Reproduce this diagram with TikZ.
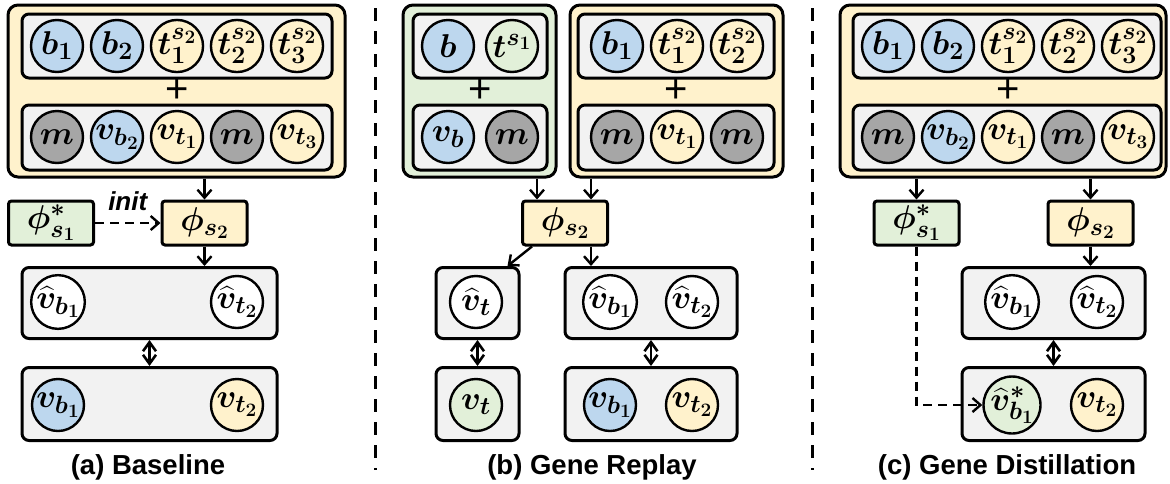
\RequirePackage{fix-cm}
\documentclass[tikz,border=0pt]{standalone}
\usepackage{amsmath,bm}
\usepackage{fontspec}
\newfontfamily\lsans{Liberation Sans}
\usetikzlibrary{arrows.meta,calc}
\definecolor{cy}{HTML}{FFF2CC}
\definecolor{cb}{HTML}{BDD7EE}
\definecolor{cg}{HTML}{E2F0D9}
\definecolor{cm}{HTML}{A6A6A6}
\definecolor{cl}{HTML}{F2F2F2}
\DeclareMathSizes{33}{33}{25}{19}
\newcommand\mf{\fontsize{33}{38}\selectfont}
\newcommand\hv{\widehat{v}}
\begin{document}
\begin{tikzpicture}[x=1pt,y=-1pt,
  cir/.style={circle, draw, line width=2.4pt, minimum size=52pt, inner sep=0pt, font=\mf},
  outerbox/.style={draw, line width=3pt, rounded corners=10pt},
  innerbox/.style={draw, fill=cl, line width=3pt, rounded corners=7pt},
  pbox/.style={draw, line width=3pt, rounded corners=3pt, minimum width=85pt, minimum height=44pt, inner sep=0pt, font=\mf},
  arr/.style={line width=2.4pt, -{Straight Barb[length=8pt,width=14pt]}},
  darr/.style={line width=2.6pt, {Straight Barb[length=9pt,width=13pt]}-{Straight Barb[length=9pt,width=13pt]}},
  dasharr/.style={line width=2.4pt, dash pattern=on 9pt off 6pt, -{Straight Barb[length=8pt,width=14pt]}},
  sep/.style={line width=3pt, dash pattern=on 13pt off 10pt},
  lab/.style={font=\lsans\bfseries\fontsize{27.5}{32}\selectfont, inner sep=0pt},
  plus/.style={font=\lsans\fontsize{40}{44}\selectfont, inner sep=0pt},
  ]
\useasboundingbox (0,0) rectangle (1170,483);

% ================= (a) =================
\node[outerbox, fill=cy, minimum width=337pt, minimum height=172pt] (oA) at (176.5,91) {};
\node[innerbox, minimum width=310pt, minimum height=64pt] (iA1) at (177,46) {};
\node[innerbox, minimum width=310pt, minimum height=65pt] (iA2) at (177,137.5) {};
\node[plus] (plA) at (177,91) {+};
\node[cir, fill=cb] (a11) at (57,46) {$\bm{b_1}$};
\node[cir, fill=cb] (a12) at (117,46) {$\bm{b_2}$};
\node[cir, fill=cy] (a13) at (177,46) {$\bm{t_1^{s_2}}$};
\node[cir, fill=cy] (a14) at (237,46) {$\bm{t_2^{s_2}}$};
\node[cir, fill=cy] (a15) at (297,46) {$\bm{t_3^{s_2}}$};
\node[cir, fill=cm] (a21) at (57,137) {$\bm{m}$};
\node[cir, fill=cb] (a22) at (117,137) {$\bm{v_{b_2}}$};
\node[cir, fill=cy] (a23) at (177,137) {$\bm{v_{t_1}}$};
\node[cir, fill=cm] (a24) at (237,137) {$\bm{m}$};
\node[cir, fill=cy] (a25) at (297,137) {$\bm{v_{t_3}}$};
\node[pbox, fill=cg] (psA) at (51,223) {$\bm{\phi^*_{s_1}}$};
\node[pbox, fill=cy] (pA) at (204.5,223) {$\bm{\phi_{s_2}}$};
\node[innerbox, minimum width=255pt, minimum height=71pt] (bA3) at (149.5,303) {};
\node[innerbox, minimum width=255pt, minimum height=73pt] (bA4) at (149.5,404) {};
\node[cir, fill=white] (a31) at (58,302) {$\bm{\hv_{b_1}}$};
\node[cir, fill=white] (a32) at (237,302) {$\bm{\hv_{t_2}}$};
\node[cir, fill=cb] (a41) at (58,405) {$\bm{v_{b_1}}$};
\node[cir, fill=cy] (a42) at (237,405) {$\bm{v_{t_2}}$};
\draw[arr] (pA.north |- oA.south) -- (pA.north);
\draw[dasharr] (psA.east) -- (pA.west)
  node[midway, anchor=base, yshift=13pt, inner sep=0pt, font=\lsans\bfseries\itshape\fontsize{26}{30}\selectfont] (init) {init};
\draw[arr] (pA.south) -- (pA.south |- bA3.north);
\draw[darr] (bA3.south) -- (bA4.north);
\node[lab] (labA) at (148,467) {(a) Baseline};

% separators
\coordinate (s1t) at (375,8);
\coordinate (s1b) at (375,470);
\coordinate (s2t) at (812,8);
\coordinate (s2b) at (812,470);
\draw[sep] (s1t) -- (s1b);
\draw[sep] (s2t) -- (s2b);

% ================= (b) =================
\node[outerbox, fill=cg, minimum width=153pt, minimum height=172pt] (oBg) at (479.5,91) {};
\node[innerbox, minimum width=134pt, minimum height=64pt] (iBg1) at (480,46) {};
\node[innerbox, minimum width=134pt, minimum height=65pt] (iBg2) at (480,137.5) {};
\node[plus] (plBg) at (480,91) {+};
\node[cir, fill=cb] (bg11) at (448,46) {$\bm{b}$};
\node[cir, fill=cg] (bg12) at (512,46) {$\bm{t^{s_1}}$};
\node[cir, fill=cb] (bg21) at (448,137) {$\bm{v_b}$};
\node[cir, fill=cm] (bg22) at (512,137) {$\bm{m}$};

\node[outerbox, fill=cy, minimum width=213pt, minimum height=172pt] (oBy) at (676.5,91) {};
\node[innerbox, minimum width=196pt, minimum height=64pt] (iBy1) at (676,46) {};
\node[innerbox, minimum width=196pt, minimum height=65pt] (iBy2) at (676,137.5) {};
\node[plus] (plBy) at (676,91) {+};
\node[cir, fill=cb] (by11) at (617,46) {$\bm{b_1}$};
\node[cir, fill=cy] (by12) at (677,46) {$\bm{t_1^{s_2}}$};
\node[cir, fill=cy] (by13) at (737,46) {$\bm{t_2^{s_2}}$};
\node[cir, fill=cm] (by21) at (617,137) {$\bm{m}$};
\node[cir, fill=cy] (by22) at (677,137) {$\bm{v_{t_1}}$};
\node[cir, fill=cm] (by23) at (737,137) {$\bm{m}$};

\node[pbox, fill=cy] (pB) at (565,223) {$\bm{\phi_{s_2}}$};
\node[innerbox, minimum width=83pt, minimum height=71pt] (bBL1) at (477.5,303) {};
\node[innerbox, minimum width=83pt, minimum height=73pt] (bBL2) at (477.5,404) {};
\node[innerbox, minimum width=172pt, minimum height=71pt] (bBR1) at (651,303) {};
\node[innerbox, minimum width=172pt, minimum height=73pt] (bBR2) at (651,404) {};
\node[cir, fill=white] (bl1) at (476,302) {$\bm{\hv_t}$};
\node[cir, fill=cg] (bl2) at (476,405) {$\bm{v_t}$};
\node[cir, fill=white] (br11) at (610,302) {$\bm{\hv_{b_1}}$};
\node[cir, fill=white] (br12) at (692,302) {$\bm{\hv_{t_2}}$};
\node[cir, fill=cb] (br21) at (610,405) {$\bm{v_{b_1}}$};
\node[cir, fill=cy] (br22) at (692,405) {$\bm{v_{t_2}}$};
\draw[arr] ([xshift=16pt]pB.north west |- oBg.south) -- ([xshift=16pt]pB.north west);
\draw[arr] ([xshift=-18pt]pB.north east |- oBy.south) -- ([xshift=-18pt]pB.north east);
\draw[arr] ([xshift=11pt]pB.south west) -- ([xshift=-13pt]bBL1.north east);
\draw[arr] ([xshift=-18pt]pB.south east) -- ([xshift=-18pt]pB.south east |- bBR1.north);
\draw[darr] (bBL1.south) -- (bBL2.north);
\draw[darr] (bBR1.south) -- (bBR2.north);
\node[lab] (labB) at (592,467) {(b) Gene Replay};

% ================= (c) =================
\node[outerbox, fill=cy, minimum width=326pt, minimum height=172pt] (oC) at (1003,91) {};
\node[innerbox, minimum width=308pt, minimum height=64pt] (iC1) at (1007,46) {};
\node[innerbox, minimum width=308pt, minimum height=65pt] (iC2) at (1007,137.5) {};
\node[plus] (plC) at (1008,91) {+};
\node[cir, fill=cb] (c11) at (888,46) {$\bm{b_1}$};
\node[cir, fill=cb] (c12) at (948,46) {$\bm{b_2}$};
\node[cir, fill=cy] (c13) at (1008,46) {$\bm{t_1^{s_2}}$};
\node[cir, fill=cy] (c14) at (1068,46) {$\bm{t_2^{s_2}}$};
\node[cir, fill=cy] (c15) at (1128,46) {$\bm{t_3^{s_2}}$};
\node[cir, fill=cm] (c21) at (888,137) {$\bm{m}$};
\node[cir, fill=cb] (c22) at (948,137) {$\bm{v_{b_2}}$};
\node[cir, fill=cy] (c23) at (1008,137) {$\bm{v_{t_1}}$};
\node[cir, fill=cm] (c24) at (1068,137) {$\bm{m}$};
\node[cir, fill=cy] (c25) at (1128,137) {$\bm{v_{t_3}}$};
\node[pbox, fill=cg] (psC) at (916.5,223) {$\bm{\phi^*_{s_1}}$};
\node[pbox, fill=cy] (pC) at (1090.5,223) {$\bm{\phi_{s_2}}$};
\node[innerbox, minimum width=183pt, minimum height=71pt] (bC3) at (1053.5,303) {};
\node[innerbox, minimum width=183pt, minimum height=73pt] (bC4) at (1053.5,404) {};
\node[cir, fill=white] (c31) at (1012,302) {$\bm{\hv_{b_1}}$};
\node[cir, fill=white] (c32) at (1097,302) {$\bm{\hv_{t_2}}$};
\node[cir, fill=cg] (c41) at (1012,405) {$\bm{\hv^*_{b_1}}$};
\node[cir, fill=cy] (c42) at (1097,405) {$\bm{v_{t_2}}$};
\draw[arr] (psC.north |- oC.south) -- (psC.north);
\draw[arr] (pC.north |- oC.south) -- (pC.north);
\draw[arr] (pC.south) -- (pC.south |- bC3.north);
\draw[darr] (bC3.south) -- (bC4.north);
\draw[dasharr] (psC.south) |- (c41.west);
\node[lab] (labC) at (1007,467) {(c) Gene Distillation};
\end{tikzpicture}
\end{document}
